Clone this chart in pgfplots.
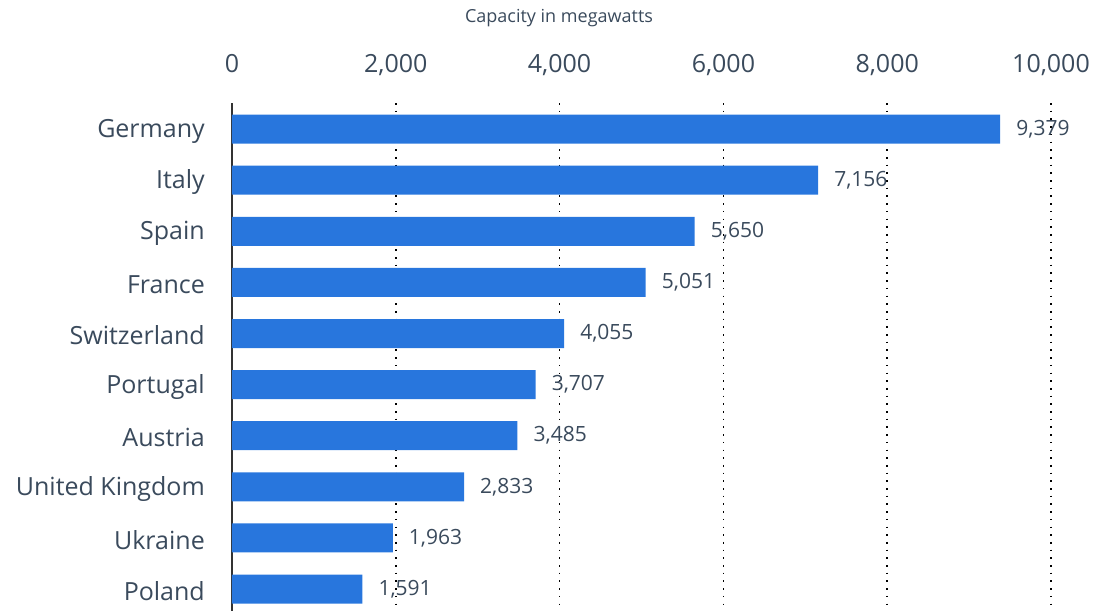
\documentclass[border=0pt]{standalone}
\usepackage{pgfplots}
\pgfplotsset{compat=1.18}
\usepackage{fontspec}
\setmainfont{Open Sans}
\definecolor{barblue}{HTML}{2876DD}
\definecolor{txt}{HTML}{3A4A5C}
\begin{document}
\begin{tikzpicture}
\path[use as bounding box] (-232pt,103pt) rectangle (862pt,-508pt);
\begin{axis}[
  at={(0,0)}, anchor=north west,
  scale only axis, width=819pt, height=508pt,
  xmin=0, xmax=10000, ymin=-0.51, ymax=9.43,
  y dir=reverse,
  xbar, bar width=29pt, bar shift=0pt,
  axis x line=top, axis y line=left,
  x axis line style={draw=none},
  y axis line style={-, draw=black!80, line width=2pt},
  major tick length=0pt,
  scaled x ticks=false,
  xtick={0,2000,4000,6000,8000,10000},
  ytick={0,1,2,3,4,5,6,7,8,9},
  yticklabels={Germany,Italy,Spain,France,Switzerland,Portugal,Austria,United Kingdom,Ukraine,Poland},
  /pgf/number format/.cd, fixed, 1000 sep={,}, assume math mode=true,
  /pgfplots/.cd,
  xticklabel style={font=\fontsize{25}{30}\selectfont, text=txt, anchor=base, inner sep=0pt, yshift=31pt},
  yticklabel style={font=\fontsize{25}{30}\selectfont, text=txt, anchor=east, inner sep=0pt, xshift=-27pt, yshift=-2pt},
  xmajorgrids, grid style={black, line width=1.6pt, dash pattern=on 1.6pt off 6.1pt},
  nodes near coords={\pgfmathprintnumber[fixed,1000 sep={,},assume math mode=true]{\pgfplotspointmeta}},
  point meta=x,
  every node near coord/.append style={anchor=west, inner sep=0pt, xshift=16pt, font=\fontsize{21}{25}\selectfont, text=txt},
  clip=false,
]
\addplot[fill=barblue, draw=none] coordinates {
  (9379,0) (7156,1) (5650,2) (5051,3) (4055,4)
  (3707,5) (3485,6) (2833,7) (1963,8) (1591,9)
};
\end{axis}
\node[font=\fontsize{18}{22}\selectfont, text=txt] at (327pt,85pt) {Capacity in megawatts};
\end{tikzpicture}
\end{document}
